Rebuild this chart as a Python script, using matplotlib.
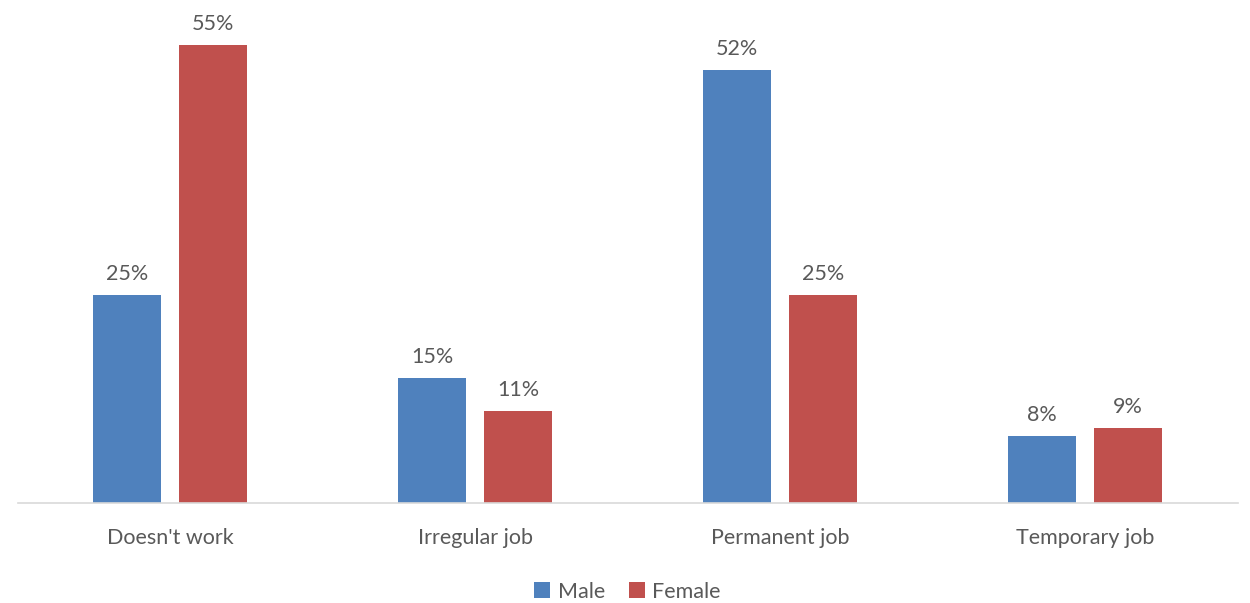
import matplotlib
matplotlib.use("Agg")
import matplotlib.pyplot as plt
import numpy as np

# Employment status by gender, share of respondents (%)
categories = ["Doesn't work", "Irregular job", "Permanent job", "Temporary job"]
male = [25, 15, 52, 8]
female = [55, 11, 25, 9]

plt.rcParams['font.family'] = ['Lato', 'DejaVu Sans']
text_color = '#595959'
male_color = '#4F81BD'
female_color = '#C0504D'

fig = plt.figure(figsize=(12.5, 6.03), dpi=100)
ax = fig.add_axes([0.014, 0.1658, 0.976, 0.8292])

x = np.arange(len(categories))
width = 0.223
offset = 0.141

bars_m = ax.bar(x - offset, male, width, color=male_color, label='Male')
bars_f = ax.bar(x + offset, female, width, color=female_color, label='Female')

for bars, vals in ((bars_m, male), (bars_f, female)):
    for b, v in zip(bars, vals):
        ax.annotate(f"{v}%", (b.get_x() + b.get_width() / 2, v),
                    xytext=(0, 8), textcoords='offset points',
                    ha='center', va='bottom', fontsize=15.5, color=text_color)

ax.set_xlim(-0.5, len(categories) - 0.5)
ax.set_ylim(0, 60)
ax.set_yticks([])
ax.set_xticks(x)
ax.set_xticklabels(categories, fontsize=15.5, color=text_color)
ax.tick_params(axis='x', length=0, pad=18)

for side in ('top', 'right', 'left'):
    ax.spines[side].set_visible(False)
ax.spines['bottom'].set_color('#D9D9D9')
ax.spines['bottom'].set_linewidth(1.2)

fig.legend(loc='lower center', bbox_to_anchor=(0.502, -0.03), ncol=2, frameon=False,
           fontsize=15.5, labelcolor=text_color, handlelength=0.75, handleheight=0.75,
           handletextpad=0.35, columnspacing=1.1)

fig.savefig('out.png', dpi=100)
